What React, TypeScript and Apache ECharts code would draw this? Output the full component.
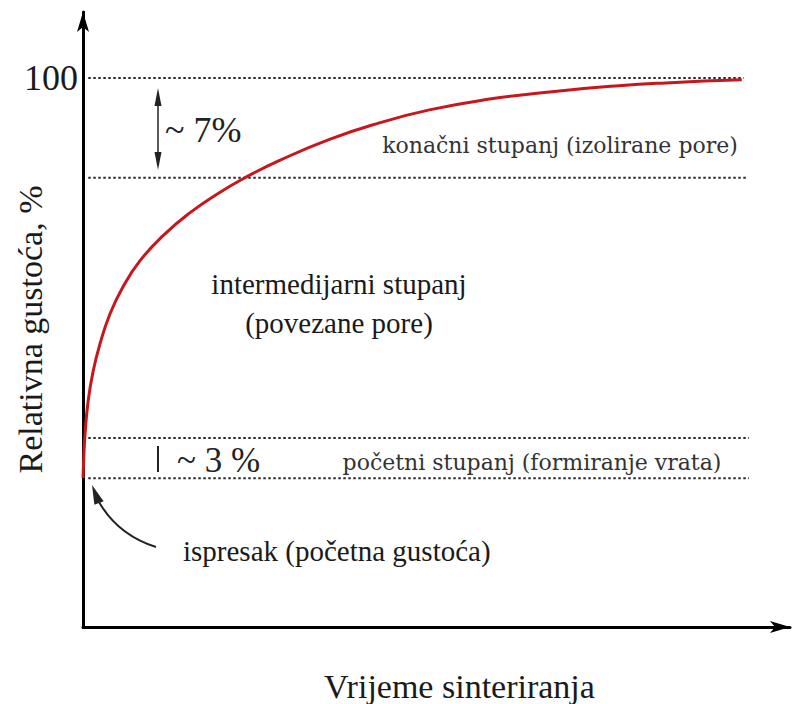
import React, { useEffect, useRef } from "react";
import * as echarts from "echarts";

// Curve: relative density vs sintering time (schematic units)
const curveX = [0, 0.15, 0.3, 0.76, 1.51, 2.57, 4.08, 6.04, 8.61, 12.08, 16.16, 20.69, 24.47, 29.76, 37.31, 44.86, 52.42, 61.03, 71.0, 81.12, 88.22, 99.7];
const curveY = [27.14, 31.69, 34.97, 40.98, 46.45, 51.55, 57.01, 61.93, 66.67, 71.22, 75.41, 79.14, 81.79, 84.97, 88.8, 91.8, 94.17, 96.05, 97.49, 98.58, 99.09, 99.64];

// Stage boundary levels (dotted lines)
const levels = [100, 81.8, 34.4, 27.1];
const levelEnds = [100, 100.5, 100.8, 100.8];

const yTickLabels = ["100"];

const SERIF = "'Liberation Serif', 'DejaVu Serif', serif";
const SERIF2 = "'DejaVu Serif', 'Liberation Serif', serif";

export default function App() {
  const ref = useRef<HTMLDivElement>(null);
  useEffect(() => {
    if (!ref.current) return;
    const chart = echarts.init(ref.current, null, { renderer: "svg" });
    const levelSeries = levels.map((lv, i) => ({
      type: "line",
      name: "level" + i,
      data: [[0.8, lv], [levelEnds[i], lv]],
      symbol: "none",
      lineStyle: { color: "#2a2a2a", width: 2, type: [2.5, 2.5] },
      z: 1,
    }));
    chart.setOption({
      animation: false,
      backgroundColor: "#ffffff",
      grid: { left: 83, right: 8, top: 12, bottom: 77, containLabel: false, outerBoundsMode: "none" },
      xAxis: {
        type: "value",
        min: 0,
        max: 107,
        name: "Vrijeme sinteriranja",
        nameLocation: "middle",
        nameGap: 42,
        nameMoveOverlap: false,
        nameTextStyle: { fontFamily: SERIF, fontSize: 34, color: "#1a1a1a", padding: [0, 0, 0, 46] },
        axisLine: {
          show: true,
          symbol: ["none", "arrow"],
          symbolSize: [9, 20],
          lineStyle: { color: "#000", width: 3 },
        },
        axisTick: { show: false },
        axisLabel: { show: false },
        splitLine: { show: false },
      },
      yAxis: {
        type: "value",
        min: 0,
        max: 112,
        interval: 100,
        name: "Relativna gustoća, %",
        nameLocation: "middle",
        nameGap: 36,
        nameRotate: 90,
        nameMoveOverlap: false,
        nameTextStyle: { fontFamily: SERIF, fontSize: 34, color: "#1a1a1a", padding: [0, 20, 0, 0] },
        axisLine: {
          show: true,
          symbol: ["none", "arrow"],
          symbolSize: [9, 20],
          lineStyle: { color: "#000", width: 3 },
        },
        axisTick: { show: false },
        axisLabel: {
          fontFamily: SERIF,
          fontSize: 36,
          color: "#1a1a1a",
          margin: 5,
          formatter: (v: number) => (yTickLabels.includes(String(v)) ? String(v) : ""),
        },
        splitLine: { show: false },
      },
      series: [
        ...levelSeries,
        {
          type: "line",
          name: "curve",
          data: curveX.map((x, i) => [x, curveY[i]]),
          symbol: "none",
          smooth: 0.5,
          lineStyle: { color: "#c8161d", width: 3 },
          z: 3,
        },
      ],
      graphic: [
        // ~7% double arrow
        { type: "line", shape: { x1: 158, y1: 100, x2: 158, y2: 158 }, style: { stroke: "#222", lineWidth: 1.5 } },
        { type: "polygon", shape: { points: [[158, 88], [154.5, 106], [161.5, 106]] }, style: { fill: "#222" } },
        { type: "polygon", shape: { points: [[158, 170], [154.5, 152], [161.5, 152]] }, style: { fill: "#222" } },
        { type: "text", style: { text: "~ 7%", x: 165, y: 130, font: `36px ${SERIF}`, fill: "#222", textVerticalAlign: "middle" } },
        // ~3% marker
        { type: "line", shape: { x1: 158, y1: 446, x2: 158, y2: 472 }, style: { stroke: "#222", lineWidth: 2 } },
        { type: "text", style: { text: "~ 3 %", x: 177, y: 460, font: `35px ${SERIF}`, fill: "#222", textVerticalAlign: "middle" } },
        // stage labels
        { type: "text", style: { text: "konačni stupanj (izolirane pore)", x: 560, y: 145, font: `22px ${SERIF2}`, fill: "#333", textAlign: "center", textVerticalAlign: "middle" } },
        { type: "text", style: { text: "intermedijarni stupanj", x: 339, y: 284, font: `29px ${SERIF}`, fill: "#1a1a1a", textAlign: "center", textVerticalAlign: "middle" } },
        { type: "text", style: { text: "(povezane pore)", x: 339, y: 323, font: `29px ${SERIF}`, fill: "#1a1a1a", textAlign: "center", textVerticalAlign: "middle" } },
        { type: "text", style: { text: "početni stupanj (formiranje vrata)", x: 532, y: 462, font: `22px ${SERIF2}`, fill: "#333", textAlign: "center", textVerticalAlign: "middle" } },
        { type: "text", style: { text: "ispresak (početna gustoća)", x: 183, y: 551, font: `29px ${SERIF}`, fill: "#1a1a1a", textVerticalAlign: "middle" } },
        // curved arrow to the compact's starting point
        { type: "bezierCurve", shape: { x1: 156, y1: 547, x2: 99, y2: 502, cpx1: 118, cpy1: 535 }, style: { stroke: "#222", lineWidth: 2, fill: "none" } },
        { type: "polygon", shape: { points: [[92, 485], [103.6, 501.2], [94.4, 504.8]] }, style: { fill: "#222" } },
      ],
    });
    return () => chart.dispose();
  }, []);
  return (
    <div
      ref={ref}
      style={{ position: "fixed", left: 0, top: 0, width: 798, height: 704, background: "#fff" }}
    />
  );
}
